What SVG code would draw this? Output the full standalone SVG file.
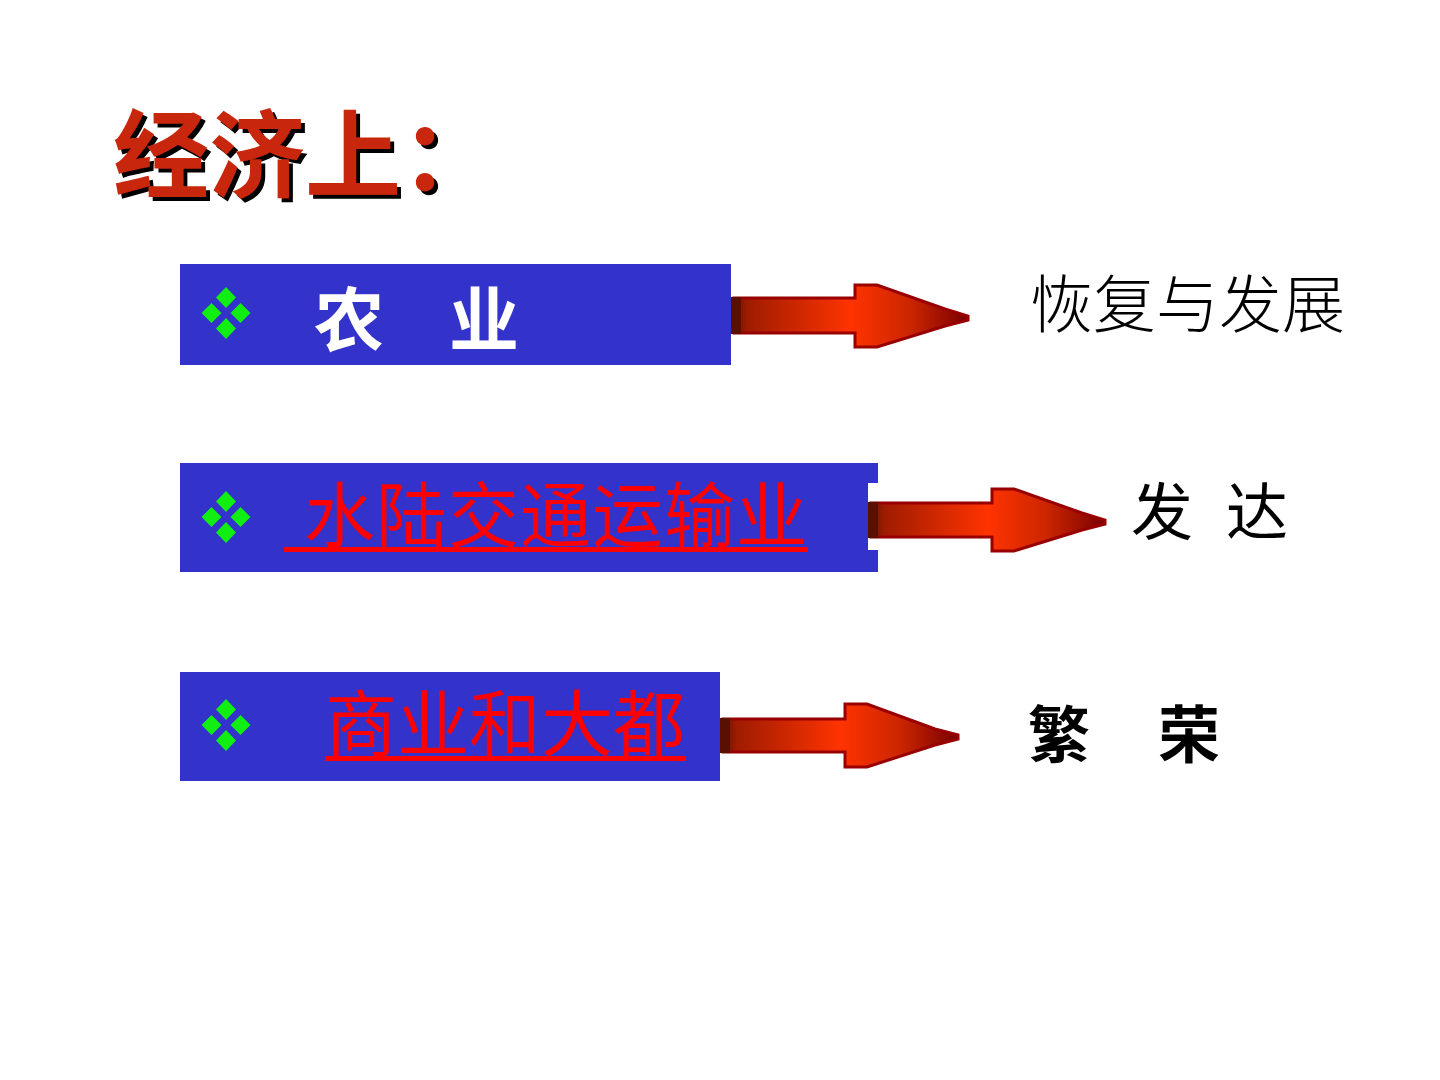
<svg xmlns="http://www.w3.org/2000/svg" width="1440" height="1080" viewBox="0 0 1440 1080">
<defs>
<style>
.box{fill:#3333CC}
.cjk{font-family:"Noto Sans CJK SC","Noto Sans",sans-serif}
.title{font-size:96px;font-weight:700;fill:#C8280C}
.bw{fill:#FFFFFF;font-size:70px;font-weight:700}
.red{fill:#FF0000;font-size:71px;font-weight:400}
.res{fill:#000000;font-size:62px}
.ul{fill:#FF0000}
.arrow{fill:url(#ag);stroke:#990000;stroke-width:3;stroke-linejoin:miter}
.butt{fill:#5A1000}
</style>
<filter id="shadow" x="-5%" y="-5%" width="115%" height="120%">
<feOffset in="SourceAlpha" dx="4" dy="4" result="off"/>
<feMerge><feMergeNode in="off"/><feMergeNode in="SourceGraphic"/></feMerge>
</filter>
<linearGradient id="ag" x1="0" y1="0" x2="1" y2="0">
<stop offset="0" stop-color="#6A1400"/>
<stop offset="0.06" stop-color="#A01C00"/>
<stop offset="0.5" stop-color="#FF3300"/>
<stop offset="0.75" stop-color="#CC2600"/>
<stop offset="1" stop-color="#7A0000"/>
</linearGradient>
<g id="bullet">
<polygon points="0,-26 10,-15.5 0,-5 -10,-15.5" fill="#11EE11"/>
<polygon points="-14.5,-10 -4.5,0 -14.5,10 -24.5,0" fill="#11EE11"/>
<polygon points="14.5,-10 24.5,0 14.5,10 4.5,0" fill="#11EE11"/>
<polygon points="0,5 10,15.5 0,26 -10,15.5" fill="#11EE11"/>
</g>
</defs>
<rect width="1440" height="1080" fill="#FFFFFF"/>

<g id="title" class="cjk title">
<text x="113" y="190" filter="url(#shadow)">经济上：</text>
</g>

<g id="node-agriculture">
<rect class="box" x="180" y="264" width="551" height="101"/>
<use href="#bullet" x="226" y="313"/>
<text class="cjk bw" y="346"><tspan x="314">农</tspan><tspan x="449">业</tspan></text>
</g>

<g id="node-transport">
<path class="box" d="M180,463 H878 V483 H868 V550 H878 V572 H180 Z"/>
<use href="#bullet" x="226" y="517"/>
<text class="cjk red" x="304" y="541" letter-spacing="1">水陆交通运输业</text>
<rect class="ul" x="284" y="547" width="524" height="5"/>
</g>

<g id="node-commerce">
<rect class="box" x="180" y="672" width="540" height="109"/>
<use href="#bullet" x="226" y="725"/>
<text class="cjk red" x="325" y="750" style="font-size:72px">商业和大都</text>
<rect class="ul" x="325" y="756" width="361" height="5"/>
</g>

<g id="connectors">
<path class="arrow" d="M734,298 H855 V285 H877 L945,309 L968,316 V320 L945,326 L877,347 H855 V333 H734 Z"/>
<rect class="butt" x="731" y="297" width="10" height="37"/>
<path class="arrow" d="M871,503 H992 V489 H1014 L1082,513 L1105,520 V524 L1082,530 L1014,551 H992 V537 H871 Z"/>
<rect class="butt" x="868" y="502" width="10" height="36"/>
<path class="arrow" d="M723,719 H845 V704 H867 L935,729 L958,735 V739 L935,745 L867,767 H845 V752 H723 Z"/>
<rect class="butt" x="720" y="718" width="10" height="35"/>
</g>

<g id="result-agriculture">
<text class="cjk res" x="1030" y="327" style="font-weight:300;font-size:63px">恢复与发展</text>
</g>
<g id="result-transport">
<text class="cjk res" y="535" style="font-weight:400"><tspan x="1131">发</tspan><tspan x="1226">达</tspan></text>
</g>
<g id="result-commerce">
<text class="cjk res" y="758" style="font-weight:700"><tspan x="1028">繁</tspan><tspan x="1158">荣</tspan></text>
</g>
</svg>
